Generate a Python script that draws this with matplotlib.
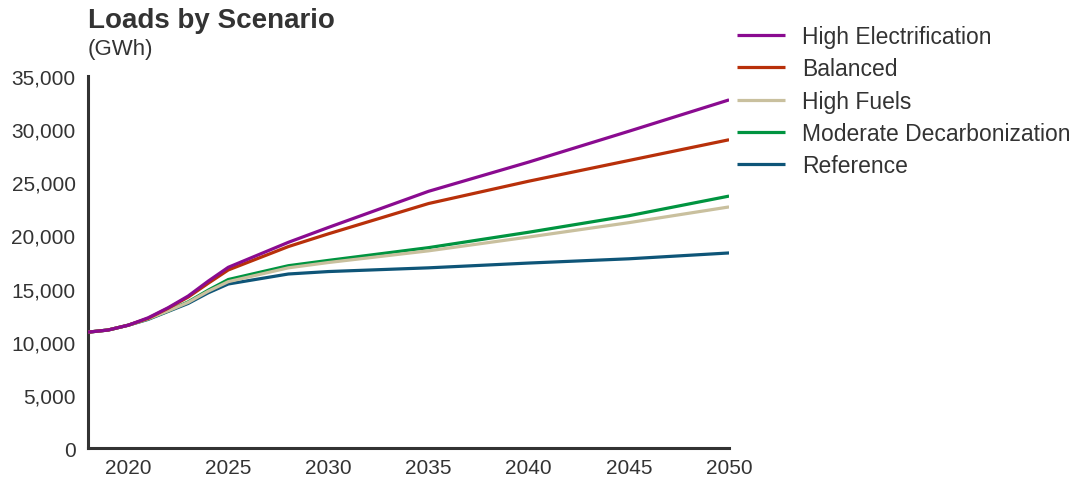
import matplotlib
matplotlib.use("Agg")
import matplotlib.pyplot as plt
from matplotlib.ticker import FuncFormatter

plt.rcParams['font.family'] = ['Liberation Sans', 'DejaVu Sans']

years = [2018, 2019, 2020, 2021, 2022, 2023, 2024, 2025, 2028, 2030, 2035, 2040, 2045, 2050]

high_electrification = [10900, 11100, 11550, 12250, 13200, 14300, 15700, 17000, 19350, 20750, 24150, 26900, 29800, 32750]
balanced             = [10900, 11100, 11550, 12200, 13150, 14200, 15500, 16750, 18950, 20150, 23000, 25100, 27050, 29000]
high_fuels           = [10900, 11100, 11550, 12150, 12900, 13700, 14750, 15650, 16950, 17450, 18550, 19850, 21200, 22680]
moderate_decarb      = [10900, 11100, 11550, 12150, 12900, 13750, 14850, 15850, 17150, 17650, 18850, 20300, 21850, 23700]
reference            = [10900, 11100, 11550, 12100, 12850, 13600, 14600, 15430, 16370, 16600, 16950, 17400, 17800, 18350]

series = [
    ("High Electrification", high_electrification, "#8A0B90"),
    ("Balanced", balanced, "#B8300A"),
    ("High Fuels", high_fuels, "#C9C09E"),
    ("Moderate Decarbonization", moderate_decarb, "#009440"),
    ("Reference", reference, "#0E5578"),
]

x_ticks = [2020, 2025, 2030, 2035, 2040, 2045, 2050]
y_ticks = [0, 5000, 10000, 15000, 20000, 25000, 30000, 35000]

fig = plt.figure(figsize=(10.75, 4.81), dpi=100)
ax = fig.add_axes([0.0819, 0.0665, 0.5963, 0.7735])

handles = {}
for i, (name, vals, color) in enumerate(series):
    line, = ax.plot(years, vals, color=color, lw=2.3, zorder=10 - i,
                    solid_capstyle='butt', label=name)
    handles[name] = line

ax.set_xlim(2018, 2050)
ax.set_ylim(0, 35000)
ax.set_xticks(x_ticks)
ax.set_yticks(y_ticks)
ax.yaxis.set_major_formatter(FuncFormatter(lambda v, p: f"{int(v):,}"))
ax.tick_params(axis='both', length=0, labelsize=15, colors='#333333')
ax.tick_params(axis='y', pad=9)
ax.tick_params(axis='x', pad=7)
for side in ('top', 'right'):
    ax.spines[side].set_visible(False)
for side in ('left', 'bottom'):
    ax.spines[side].set_color('#333333')
    ax.spines[side].set_linewidth(2.2)

fig.text(0.0819, 0.957, "Loads by Scenario", fontsize=20, fontweight='bold',
         color='#333333', ha='left', va='center')
fig.text(0.0819, 0.898, "(GWh)", fontsize=16, color='#333333', ha='left', va='center')

leg = fig.legend([handles[n] for n, _, _ in series], [n for n, _, _ in series],
                 loc='upper left', bbox_to_anchor=(0.6664, 0.989), frameon=False,
                 fontsize=16.5, handlelength=2.1, handletextpad=0.74,
                 labelspacing=0.41)
for t in leg.get_texts():
    t.set_color('#333333')

fig.savefig("out.png", dpi=100)
